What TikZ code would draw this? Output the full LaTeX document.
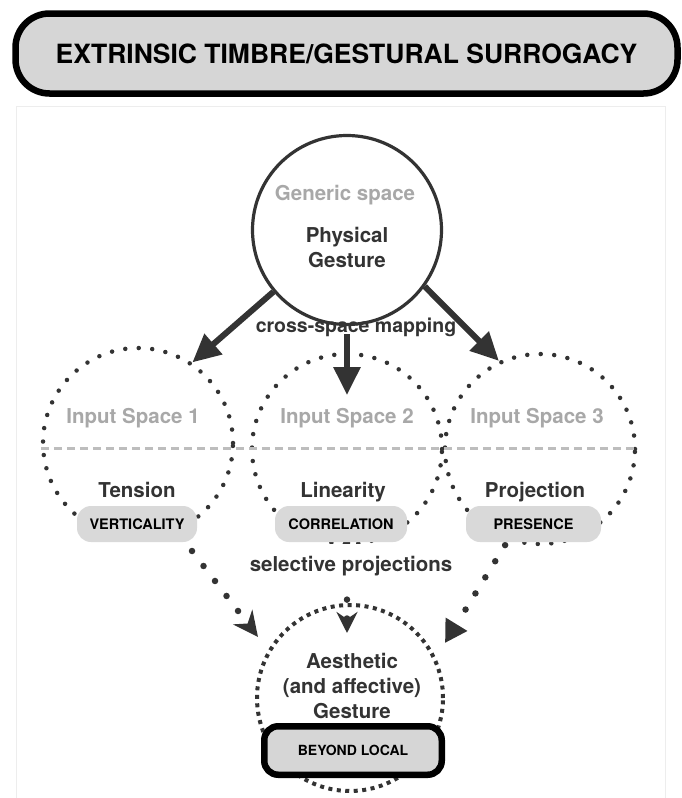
\documentclass[tikz,border=0pt]{standalone}
\usepackage{fontspec}
\setmainfont{TeX Gyre Heros}
\usetikzlibrary{arrows.meta,calc}
\definecolor{dark}{HTML}{333333}
\definecolor{lgray}{HTML}{A8A8A8}
\definecolor{pillgray}{HTML}{D9D9D9}
\definecolor{boxgray}{HTML}{D6D6D6}
\definecolor{dashgray}{HTML}{BDBDBD}
\definecolor{framegray}{HTML}{EDEDED}
\begin{document}
\begin{tikzpicture}[x=1pt,y=-1pt,
  txt/.style={font=\fontsize{20.5}{24}\selectfont\bfseries, text=dark, inner sep=0pt},
  graytxt/.style={txt, text=lgray},
  pillbox/.style={font=\fontsize{14.5}{16}\selectfont\bfseries, text=black, fill=pillgray,
    rounded corners=14pt, minimum height=36pt, inner sep=0pt},
  solidcirc/.style={circle, draw=dark, line width=3.2pt, minimum size=189pt, inner sep=0pt},
  dotcirc/.style={circle, draw=dark, line width=4.5pt, line cap=round,
    dash pattern=on 0pt off 13.5pt, minimum size=190pt, inner sep=0pt},
  sqcirc/.style={circle, draw=dark, line width=4pt, dash pattern=on 4pt off 4.5pt,
    minimum size=186pt, inner sep=0pt},
  bigarrow/.style={draw=dark, line width=6pt, -{Triangle[length=28pt,width=26pt]}},
  dotconn/.style={draw=dark, line width=6.5pt, line cap=round, dash pattern=on 0pt off 18.9pt},
  dashline/.style={draw=dashgray, line width=3pt, dash pattern=on 8pt off 5pt},
  heavybox/.style={draw=black, line width=6.5pt, fill=boxgray, inner sep=0pt, text=black,
    font=\bfseries}
]
\useasboundingbox (0,0) rectangle (682,798);
% outer frame
\draw[framegray, line width=1pt] (16,800) -- (16,106) -- (665.5,106) -- (665.5,800);
% title
\node[heavybox, rounded corners=34pt, minimum width=662pt, minimum height=80pt,
  font=\fontsize{26.5}{30}\selectfont\bfseries, text depth=0pt] (title) at (346.5,53.5)
  {EXTRINSIC TIMBRE/GESTURAL SURROGACY};
% generic space
\node[solidcirc] (gen) at (347,230) {};
\node[graytxt, anchor=base] (gs) at (345,200) {Generic space};
\node[txt, anchor=base] (ph) at (347,242) {Physical};
\node[txt, anchor=base] (ge) at (347,267) {Gesture};
% input spaces
\node[dotcirc] (in1) at (138,443) {};
\node[dotcirc] (in2) at (347,449) {};
\node[dotcirc] (in3) at (540,449) {};
\coordinate (dl) at (0,448);
\draw[dashline] (in1.west |- dl) -- (in3.east |- dl);
\node[graytxt, anchor=base] (is1) at (133,423) {Input Space 1};
\node[graytxt, anchor=base] (is2) at (347,423) {Input Space 2};
\node[graytxt, anchor=base] (is3) at (537,423) {Input Space 3};
\node[txt, anchor=base] (t1) at (137,497) {Tension};
\node[txt, anchor=base] (t2) at (343,497) {Linearity};
\node[txt, anchor=base] (t3) at (535,497) {Projection};
% cross-space mapping
\node[txt, anchor=base, font=\fontsize{19.5}{24}\selectfont\bfseries] (csm) at (356,332) {cross-space mapping};
\coordinate (m2) at (347,395);
\draw[bigarrow] (gen.220) -- (in1.56);
\draw[bigarrow] (gen.-36) -- (in3.115);
\draw[bigarrow] ([yshift=2pt]csm.south -| in2.center) -- (m2);
% selective projection connectors
\coordinate (s1) at (180.5,536);
\coordinate (e1) at (258,637);
\coordinate (s2) at (347,524);
\coordinate (e2) at (347,633);
\coordinate (s3) at (515,529);
\coordinate (e3) at (445,643);
\draw[dotconn, -{Stealth[length=25pt,width=24pt,inset=8pt]}] (s1) -- (e1);
\draw[dotconn, -{Stealth[length=21pt,width=21pt,inset=7pt]}] (s2) -- (e2);
\draw[dotconn, -{Triangle[length=22pt,width=24pt]}] (s3) -- (e3);
% pills
\node[pillbox, minimum width=120pt] (p1) at (137,524) {VERTICALITY};
\node[pillbox, minimum width=132pt] (p2) at (341,524) {CORRELATION};
\node[pillbox, minimum width=135pt] (p3) at (533.5,524) {PRESENCE};
\node[txt, anchor=base, fill=white, inner xsep=2pt, inner ysep=12pt] (sp) at (351,571) {selective projections};
% aesthetic gesture
\node[sqcirc] (aes) at (350,698) {};
\node[txt, anchor=base] (a1) at (352,668) {Aesthetic};
\node[txt, anchor=base] (a2) at (352,693) {(and affective)};
\node[txt, anchor=base] (a3) at (352,718) {Gesture};
\node[heavybox, rounded corners=14pt, minimum width=177.5pt, minimum height=48.5pt,
  font=\fontsize{14}{16}\selectfont\bfseries] (bl) at (353,750.5) {BEYOND LOCAL};
\end{tikzpicture}
\end{document}
